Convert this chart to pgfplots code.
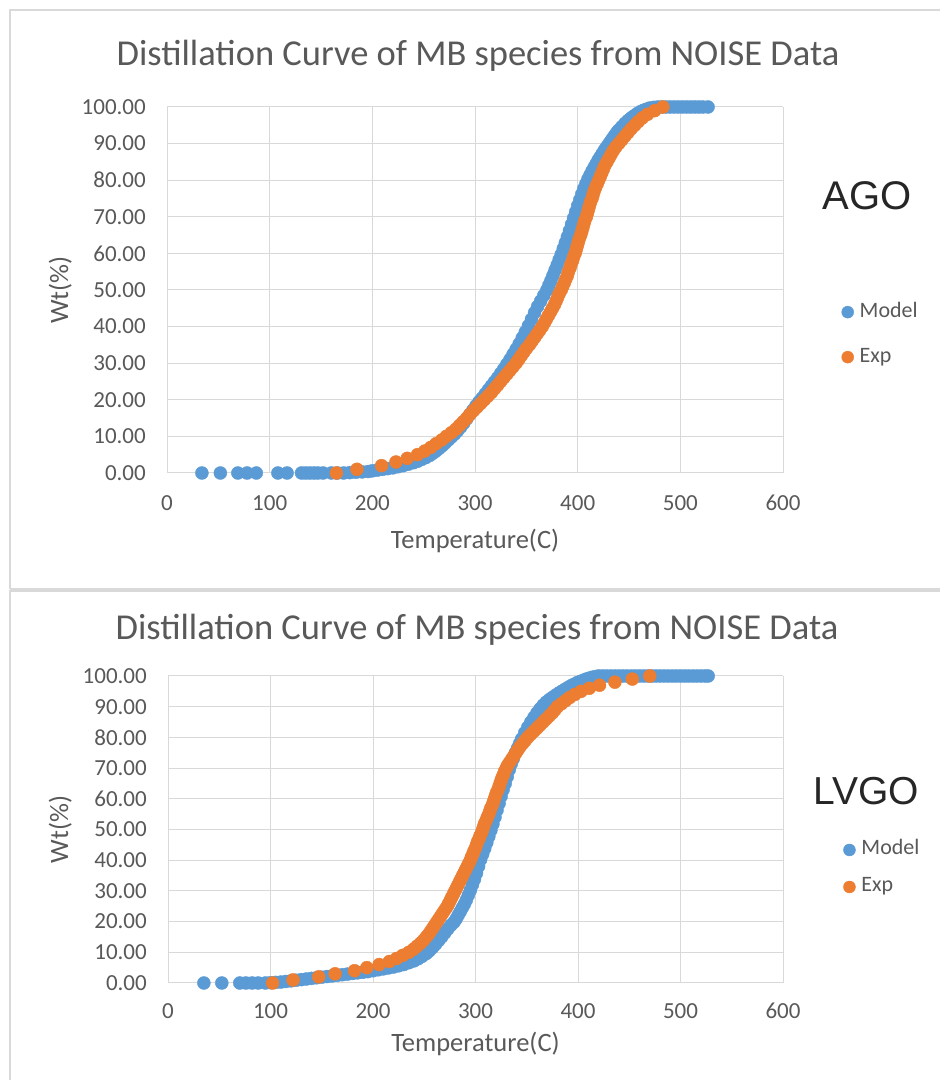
\documentclass[border=0pt]{standalone}
\usepackage{pgfplots}
\usepackage{pgfplotstable}
\pgfplotsset{compat=1.18}
\usepackage{fontspec}
\setmainfont{Carlito}
\newfontfamily\arialf{Liberation Sans}
\definecolor{txt}{HTML}{595959}
\definecolor{grd}{HTML}{D9D9D9}
\definecolor{mblue}{HTML}{5B9BD5}
\definecolor{morange}{HTML}{ED7D31}
\definecolor{dark}{HTML}{262626}

\pgfplotstableread{
x y
34 0
52 0
69 0
78 0
87 0
108 0
117 0
131 0
135 0
139 0
143 0
147 0
152 0
160 0
166 0
172 0
178 0.1
184 0.2
190 0.3
196 0.4
200 0.6
205 0.8
210 1.0
215 1.2
220 1.4
225 1.7
230 2.0
235 2.4
240 2.8
244 3.2
248 3.7
252 4.2
256 4.8
259 5.4
262 6.0
265 6.7
268 7.4
271 8.2
274 9.0
277 9.8
280 10.6
283 11.5
286 12.5
289 13.6
292 14.8
295 16.0
298 17.2
301 18.4
304 19.5
307 20.5
310 21.6
313 22.7
316 23.8
319 24.9
322 26.0
325 27.2
328 28.4
331 29.7
334 31.0
337 32.4
340 33.8
343 35.3
346 36.9
349 38.5
352 40.2
355 42.0
358 43.8
361 45.5
364 47.0
367 48.5
370 50.0
372 51.3
374 52.6
376 54.0
378 55.4
380 56.8
382 58.3
384 59.7
386 61.3
388 62.9
390 64.5
392 66.2
394 67.9
396 69.6
398 71.3
400 73.0
402 74.6
404 76.2
406 77.7
408 79.0
410 80.3
412 81.4
414 82.5
416 83.5
418 84.5
420 85.5
422 86.4
424 87.3
426 88.2
428 89.0
430 89.8
432 90.6
434 91.4
436 92.2
438 93.0
440 93.7
443 94.6
446 95.5
449 96.3
452 97.0
455 97.6
458 98.2
461 98.7
464 99.1
467 99.4
470 99.7
474 99.9
478 100
482 100
486 100
490 100
494 100
498 100
502 100
506 100
510 100
514 100
518 100
522 100
527 100
}\agomodel

\pgfplotstableread{
y x
0 165
1 185
2 209
3 223
4 234
5 244
6 251
7 257
8 262
9 267.5
10 272
11 277
12 281.5
13 285
14 288.5
15 292
16 295
17 298.5
18 302
19 305.5
20 309
21 312.5
22 316
23 319
24 322
25 325
26 328
27 331
28 334
29 337
30 340
31 342.5
32 345
33 347.5
34 350
35 353
36 355.5
37 358
38 360.5
39 363
40 365.5
41 367.5
42 369.5
43 371.5
44 373.5
45 375.5
46 377.5
47 379
48 380.5
49 382
50 384
51 385.5
52 387
53 388.5
54 390
55 391
56 392.5
57 393.5
58 395
59 396
60 397.5
61 398.5
62 399.5
63 400.5
64 401.5
65 403
66 404
67 405
68 406
69 407
70 408.5
71 409.5
72 410.5
73 411.5
74 412.5
75 414
76 415
77 416
78 417.5
79 419
80 420.5
81 422
82 423.5
83 425
84 426.5
85 428.5
86 430.5
87 432.5
88 434.5
89 437
90 440
91 443
92 446
93 449
94 452
95 455.5
96 459
97 463
98 468
99 475
100 483
}\agoexp

\pgfplotstableread{
x y
35 0
52.5 0
70 0
76 0
82 0
88 0
95 0
100 0.1
105 0.2
110 0.3
115 0.5
120 0.7
125 0.9
130 1.1
135 1.3
140 1.5
145 1.7
150 1.9
155 2.1
160 2.3
165 2.5
170 2.7
175 2.9
180 3.1
185 3.3
190 3.5
195 3.7
200 4.0
205 4.3
210 4.6
215 4.9
220 5.2
225 5.6
230 6.0
235 6.6
240 7.2
244 7.9
248 8.7
252 9.6
255 10.5
258 11.5
261 12.6
264 13.8
267 15.0
270 16.3
273 17.6
276 18.8
279 19.8
281 20.8
283 22.0
285 23.2
287 24.4
289 25.6
291 27.0
293 28.6
295 30.2
297 32.0
299 33.8
301 35.8
303 38.0
305 40.2
307 42.0
309 43.8
311 45.7
313 47.7
315 49.7
317 51.8
319 54.0
321 56.3
323 58.5
325 60.8
327 63.0
329 65.0
331 67.2
333 69.5
335 71.5
337 73.2
339 75.0
341 76.5
343 78.0
345 79.5
348 81.5
351 83.3
354 85.0
357 86.5
360 88.0
363 89.3
366 90.5
369 91.5
372 92.3
375 93.0
378 93.7
381 94.4
384 95.0
387 95.6
390 96.2
393 96.8
396 97.3
399 97.8
402 98.2
405 98.6
408 99.0
411 99.3
414 99.6
417 99.8
420 100
424 100
428 100
432 100
436 100
440 100
444 100
448 100
452 100
456 100
460 100
464 100
468 100
472 100
476 100
480 100
484 100
488 100
492 100
496 100
500 100
504 100
508 100
512 100
516 100
520 100
524 100
527 100
}\lvgomodel

\pgfplotstableread{
y x
0 102
1 122
2 147
3 163
4 182
5 194
6 206
7 216
8 223
9 229
10 235
11 239.5
12 243
13 246.5
14 249.5
15 252
16 254.5
17 256.5
18 258.5
19 260.5
20 262.5
21 264.5
22 266.5
23 268.5
24 270.5
25 272.5
26 274
27 275.5
28 277
29 278.5
30 280
31 281.5
32 283
33 284.5
34 286
35 287.5
36 289
37 290.5
38 292
39 293.5
40 295
41 296
42 297.5
43 298.5
44 300
45 301
46 302
47 303.5
48 304.5
49 306
50 307
51 308
52 309
53 310.5
54 311.5
55 313
56 314
57 315
58 316.5
59 317.5
60 318.5
61 319.5
62 320.5
63 322
64 323
65 324
66 325
67 326
68 327.5
69 328.5
70 330
71 331.5
72 333.5
73 335.5
74 337.5
75 339.5
76 341.5
77 343.5
78 346
79 348.5
80 351
81 354
82 357
83 360
84 363
85 366
86 369
87 372
88 375
89 377.5
90 380
91 384
92 388
93 392
94 397
95 403
96 411
97 421
98 436
99 453
100 470
}\lvgoexp

\pgfplotsset{
  distil/.style={
    scale only axis,
    xmin=0, xmax=600, ymin=0, ymax=100,
    xtick={0,100,...,600}, ytick={0,10,...,100},
    grid=major,
    major grid style={draw=grd, line width=1bp},
    axis line style={draw=none},
    major tick length=0pt,
    clip=false,
    /pgf/number format/assume math mode=true,
    tick label style={font=\fontsize{23bp}{27bp}\selectfont, text=txt},
    yticklabel={\pgfmathprintnumber[fixed,fixed zerofill,precision=2]{\tick}},
    xticklabel={\pgfmathprintnumber[fixed,precision=0]{\tick}},
    yticklabel style={anchor=east, inner sep=0pt, xshift=-21bp},
    xlabel={Temperature(C)},
    ylabel={Wt(\%)},
    label style={font=\fontsize{26.5bp}{30bp}\selectfont, text=txt},
    legend cell align=left,
    legend image code/.code={\draw[#1, mark size=6bp] plot coordinates {(6bp,0bp)};},
    legend style={draw=none, fill=none, inner sep=0pt,
      font=\fontsize{22bp}{26bp}\selectfont, text=txt,
      nodes={text height=14bp, text depth=4bp, inner sep=2bp},
      /tikz/every odd column/.append style={column sep=4bp},
      anchor=west},
  },
  modelpts/.style={only marks, mark=*, color=mblue, mark size=6.5bp, mark options={draw=none, fill=mblue}},
  exppts/.style={only marks, mark=*, color=morange, mark size=6.5bp, mark options={draw=none, fill=morange}},
}

\begin{document}
\begin{tikzpicture}
\path[use as bounding box] (0,0) rectangle (940bp,1080bp);
\fill[white] (0,0) rectangle (940bp,1080bp);
% panel borders
\draw[grd, line width=2bp] (10bp,491bp) -- (10bp,1070bp) -- (960bp,1070bp);
\draw[grd, line width=2bp] (10bp,491bp) -- (960bp,491bp);
\draw[grd, line width=2bp] (10bp,-10bp) -- (10bp,488.5bp) -- (960bp,488.5bp);

\begin{axis}[distil,
  at={(167bp,607bp)}, anchor=south west,
  width=616bp, height=366bp,
  xticklabel style={anchor=north, inner sep=0pt, yshift=-22bp},
  xlabel style={at={(axis description cs:0.5,-0.205)}, anchor=base},
  ylabel style={at={(axis description cs:-0.1607,0.5)}, anchor=base},
  legend style={at={(1.095,0.378)}, row sep=23bp},
]
\addplot[modelpts] table[x=x,y=y]{\agomodel};
\addplot[exppts] table[x=x,y=y]{\agoexp};
\legend{Model,Exp}
\end{axis}

\begin{axis}[distil,
  at={(168bp,97bp)}, anchor=south west,
  width=615bp, height=307bp,
  xticklabel style={anchor=north, inner sep=0pt, yshift=-20bp},
  xlabel style={at={(axis description cs:0.5,-0.222)}, anchor=base},
  ylabel style={at={(axis description cs:-0.1626,0.5)}, anchor=base},
  legend style={at={(1.098,0.373)}, row sep=15bp},
]
\addplot[modelpts] table[x=x,y=y]{\lvgomodel};
\addplot[exppts] table[x=x,y=y]{\lvgoexp};
\legend{Model,Exp}
\end{axis}

% titles and panel labels
\node[anchor=base, text=txt, font=\fontsize{36.5bp}{40bp}\selectfont] at (478bp,1014.6bp) {Distillation Curve of MB species from NOISE Data};
\node[anchor=base, text=txt, font=\fontsize{36.5bp}{40bp}\selectfont] at (477bp,440.4bp) {Distillation Curve of MB species from NOISE Data};
\node[anchor=base, text=dark, font=\arialf\fontsize{40bp}{46bp}\selectfont] at (867bp,870bp) {AGO};
\node[anchor=base, text=dark, font=\arialf\fontsize{39bp}{46bp}\selectfont] at (866bp,275bp) {LVGO};
\end{tikzpicture}
\end{document}
